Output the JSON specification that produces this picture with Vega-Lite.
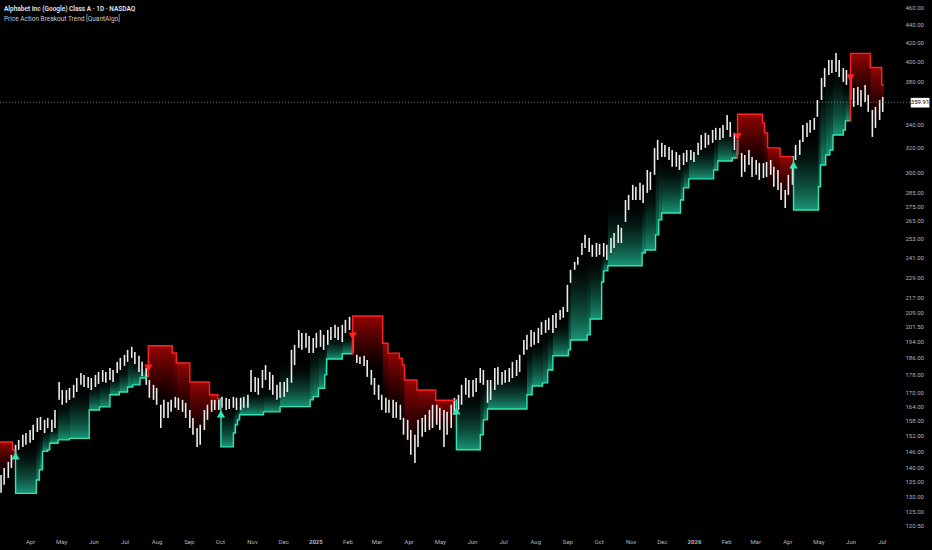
{
  "$schema": "https://vega.github.io/schema/vega-lite/v6.json",
  "width": 890,
  "height": 530,
  "autosize": {"type": "none"},
  "padding": {"left": 0, "top": 0, "right": 42, "bottom": 20},
  "background": "#000000",
  "title": {
    "text": "Alphabet Inc (Google) Class A · 1D · NASDAQ",
    "subtitle": "Price Action Breakout Trend [QuantAlgo]",
    "anchor": "start",
    "frame": "group",
    "offset": -22,
    "dx": 4,
    "fontSize": 6.5,
    "fontWeight": 600,
    "color": "#e0e3eb",
    "subtitleFontSize": 6.5,
    "subtitleColor": "#c5c8d0",
    "subtitlePadding": 3
  },
  "config": {
    "font": "Roboto",
    "view": {"stroke": null},
    "axis": {"grid": false, "ticks": false, "domain": false, "title": null, "labelColor": "#b2b5be", "labelFontSize": 6}
  },
  "resolve": {"axis": {"x": "independent", "y": "independent"}},
  "datasets": {
    "candles": [
      {"d":"2024-03-04","h":137.3,"l":131.1},{"d":"2024-03-07","h":139.8,"l":133.8},
      {"d":"2024-03-11","h":142.0,"l":136.2},{"d":"2024-03-14","h":144.6,"l":139.8},
      {"d":"2024-03-18","h":148.4,"l":143.5},{"d":"2024-03-21","h":150.3,"l":146.5},
      {"d":"2024-03-25","h":152.3,"l":147.6},{"d":"2024-03-28","h":153.0,"l":148.4},
      {"d":"2024-04-01","h":154.2,"l":149.2},{"d":"2024-04-04","h":156.3,"l":150.3},
      {"d":"2024-04-08","h":159.1,"l":153.4},{"d":"2024-04-11","h":159.5,"l":154.2},
      {"d":"2024-04-15","h":158.3,"l":153.0},{"d":"2024-04-18","h":159.1,"l":155.0},
      {"d":"2024-04-22","h":158.3,"l":153.4},{"d":"2024-04-25","h":162.4,"l":155.0},
      {"d":"2024-04-29","h":174.6,"l":166.7},{"d":"2024-05-02","h":171.0,"l":164.6},
      {"d":"2024-05-06","h":171.0,"l":165.4},{"d":"2024-05-09","h":171.9,"l":166.7},
      {"d":"2024-05-13","h":173.3,"l":167.6},{"d":"2024-05-16","h":176.4,"l":170.1},
      {"d":"2024-05-20","h":178.7,"l":173.3},{"d":"2024-05-23","h":177.8,"l":172.3},
      {"d":"2024-05-27","h":176.9,"l":171.9},{"d":"2024-05-30","h":176.4,"l":171.0},
      {"d":"2024-06-03","h":177.8,"l":172.3},{"d":"2024-06-06","h":179.2,"l":173.7},
      {"d":"2024-06-10","h":180.1,"l":174.6},{"d":"2024-06-13","h":179.2,"l":174.2},
      {"d":"2024-06-17","h":181.0,"l":175.5},{"d":"2024-06-20","h":180.1,"l":174.6},
      {"d":"2024-06-24","h":183.9,"l":178.7},{"d":"2024-06-27","h":185.8,"l":180.1},
      {"d":"2024-07-01","h":187.3,"l":182.0},{"d":"2024-07-04","h":189.7,"l":183.9},
      {"d":"2024-07-08","h":191.2,"l":185.8},{"d":"2024-07-11","h":188.7,"l":182.9},
      {"d":"2024-07-15","h":186.8,"l":179.2},{"d":"2024-07-18","h":183.9,"l":177.3},
      {"d":"2024-07-22","h":181.0,"l":173.3},{"d":"2024-07-25","h":175.5,"l":167.6},
      {"d":"2024-07-29","h":173.3,"l":166.7},{"d":"2024-08-01","h":171.9,"l":164.6},
      {"d":"2024-08-05","h":164.6,"l":155.0},{"d":"2024-08-08","h":166.7,"l":159.1},
      {"d":"2024-08-12","h":165.8,"l":159.1},{"d":"2024-08-15","h":166.7,"l":161.6},
      {"d":"2024-08-19","h":168.0,"l":163.3},{"d":"2024-08-22","h":167.6,"l":162.4},
      {"d":"2024-08-26","h":166.7,"l":161.6},{"d":"2024-08-29","h":165.4,"l":159.1},
      {"d":"2024-09-02","h":162.4,"l":155.0},{"d":"2024-09-05","h":159.1,"l":152.3},
      {"d":"2024-09-09","h":155.0,"l":147.6},{"d":"2024-09-12","h":156.3,"l":148.4},
      {"d":"2024-09-16","h":162.4,"l":154.2},{"d":"2024-09-19","h":164.6,"l":158.3},
      {"d":"2024-09-23","h":166.7,"l":161.6},{"d":"2024-09-26","h":166.7,"l":162.4},
      {"d":"2024-09-30","h":166.7,"l":162.4},{"d":"2024-10-03","h":168.0,"l":163.3},
      {"d":"2024-10-07","h":167.6,"l":162.4},{"d":"2024-10-10","h":167.1,"l":162.8},
      {"d":"2024-10-14","h":168.0,"l":163.3},{"d":"2024-10-17","h":167.6,"l":162.4},
      {"d":"2024-10-21","h":167.6,"l":162.4},{"d":"2024-10-24","h":168.0,"l":163.3},
      {"d":"2024-10-28","h":168.9,"l":163.3},{"d":"2024-10-31","h":180.1,"l":170.1},
      {"d":"2024-11-04","h":176.9,"l":170.1},{"d":"2024-11-07","h":176.4,"l":168.9},
      {"d":"2024-11-11","h":180.1,"l":171.9},{"d":"2024-11-14","h":182.4,"l":175.5},
      {"d":"2024-11-18","h":179.2,"l":171.0},{"d":"2024-11-21","h":177.8,"l":168.9},
      {"d":"2024-11-25","h":173.3,"l":166.7},{"d":"2024-11-28","h":174.6,"l":167.6},
      {"d":"2024-12-02","h":174.6,"l":168.0},{"d":"2024-12-05","h":176.4,"l":170.1},
      {"d":"2024-12-09","h":189.7,"l":174.2},{"d":"2024-12-12","h":192.2,"l":182.4},
      {"d":"2024-12-16","h":199.7,"l":190.7},{"d":"2024-12-19","h":198.2,"l":189.7},
      {"d":"2024-12-23","h":198.2,"l":190.7},{"d":"2024-12-26","h":196.6,"l":188.2},
      {"d":"2024-12-30","h":195.6,"l":188.2},{"d":"2025-01-02","h":198.2,"l":190.7},
      {"d":"2025-01-06","h":199.7,"l":191.2},{"d":"2025-01-09","h":197.2,"l":189.7},
      {"d":"2025-01-13","h":199.7,"l":192.2},{"d":"2025-01-16","h":201.3,"l":194.6},
      {"d":"2025-01-20","h":202.4,"l":195.6},{"d":"2025-01-23","h":201.3,"l":194.6},
      {"d":"2025-01-27","h":202.4,"l":193.6},{"d":"2025-01-30","h":205.0,"l":198.2},
      {"d":"2025-02-03","h":206.6,"l":199.7},{"d":"2025-02-06","h":197.2,"l":188.2},
      {"d":"2025-02-10","h":187.3,"l":183.4},{"d":"2025-02-13","h":186.3,"l":182.9},
      {"d":"2025-02-17","h":186.8,"l":182.0},{"d":"2025-02-20","h":184.8,"l":176.9},
      {"d":"2025-02-24","h":180.1,"l":173.3},{"d":"2025-02-27","h":176.4,"l":168.9},
      {"d":"2025-03-03","h":173.3,"l":166.7},{"d":"2025-03-06","h":168.9,"l":162.4},
      {"d":"2025-03-10","h":167.6,"l":161.2},{"d":"2025-03-13","h":166.7,"l":161.2},
      {"d":"2025-03-17","h":166.7,"l":159.1},{"d":"2025-03-20","h":165.8,"l":159.1},
      {"d":"2025-03-24","h":164.6,"l":158.3},{"d":"2025-03-27","h":159.1,"l":152.3},
      {"d":"2025-03-31","h":158.3,"l":150.3},{"d":"2025-04-03","h":154.2,"l":144.6},
      {"d":"2025-04-07","h":152.3,"l":141.6},{"d":"2025-04-10","h":158.3,"l":147.6},
      {"d":"2025-04-14","h":159.1,"l":151.5},{"d":"2025-04-17","h":160.4,"l":153.4},
      {"d":"2025-04-21","h":162.4,"l":154.2},{"d":"2025-04-24","h":164.6,"l":155.0},
      {"d":"2025-04-28","h":164.6,"l":156.3},{"d":"2025-05-01","h":163.3,"l":154.2},
      {"d":"2025-05-05","h":162.4,"l":147.6},{"d":"2025-05-08","h":161.6,"l":152.3},
      {"d":"2025-05-12","h":164.6,"l":155.0},{"d":"2025-05-15","h":167.6,"l":160.4},
      {"d":"2025-05-19","h":168.9,"l":162.4},{"d":"2025-05-22","h":173.3,"l":164.6},
      {"d":"2025-05-26","h":176.4,"l":168.9},{"d":"2025-05-29","h":175.5,"l":167.6},
      {"d":"2025-06-02","h":175.5,"l":168.0},{"d":"2025-06-05","h":176.4,"l":170.1},
      {"d":"2025-06-09","h":181.0,"l":174.2},{"d":"2025-06-12","h":180.1,"l":173.3},
      {"d":"2025-06-16","h":175.5,"l":165.4},{"d":"2025-06-19","h":175.5,"l":166.7},
      {"d":"2025-06-23","h":181.0,"l":171.0},{"d":"2025-06-26","h":181.5,"l":173.3},
      {"d":"2025-06-30","h":179.2,"l":173.3},{"d":"2025-07-03","h":180.1,"l":174.2},
      {"d":"2025-07-07","h":181.0,"l":174.6},{"d":"2025-07-10","h":183.9,"l":176.4},
      {"d":"2025-07-14","h":184.8,"l":177.3},{"d":"2025-07-17","h":187.3,"l":179.2},
      {"d":"2025-07-21","h":194.6,"l":187.3},{"d":"2025-07-24","h":197.2,"l":189.7},
      {"d":"2025-07-28","h":199.7,"l":191.2},{"d":"2025-07-31","h":198.7,"l":192.2},
      {"d":"2025-08-04","h":200.8,"l":193.1},{"d":"2025-08-07","h":203.9,"l":197.2},
      {"d":"2025-08-11","h":205.0,"l":198.2},{"d":"2025-08-14","h":206.1,"l":199.7},
      {"d":"2025-08-18","h":207.6,"l":198.2},{"d":"2025-08-21","h":208.7,"l":200.8},
      {"d":"2025-08-25","h":210.3,"l":205.0},{"d":"2025-08-28","h":212.0,"l":206.1},
      {"d":"2025-09-01","h":224.4,"l":209.2},{"d":"2025-09-04","h":233.3,"l":225.6},
      {"d":"2025-09-08","h":238.2,"l":233.3},{"d":"2025-09-11","h":241.3,"l":236.4},
      {"d":"2025-09-15","h":250.1,"l":242.5},{"d":"2025-09-18","h":255.4,"l":246.9},
      {"d":"2025-09-22","h":253.4,"l":244.4},{"d":"2025-09-25","h":248.9,"l":241.3},
      {"d":"2025-09-29","h":250.1,"l":241.3},{"d":"2025-10-02","h":249.5,"l":242.5},
      {"d":"2025-10-06","h":250.1,"l":241.3},{"d":"2025-10-09","h":248.9,"l":239.4},
      {"d":"2025-10-13","h":253.4,"l":243.7},{"d":"2025-10-16","h":256.7,"l":246.9},
      {"d":"2025-10-20","h":262.1,"l":250.1},{"d":"2025-10-23","h":260.1,"l":250.1},
      {"d":"2025-10-27","h":279.5,"l":264.1},{"d":"2025-10-30","h":283.2,"l":272.4},
      {"d":"2025-11-03","h":290.7,"l":279.5},{"d":"2025-11-06","h":289.2,"l":279.5},
      {"d":"2025-11-10","h":292.2,"l":279.5},{"d":"2025-11-13","h":290.7,"l":277.4},
      {"d":"2025-11-17","h":302.1,"l":284.7},{"d":"2025-11-20","h":300.6,"l":286.9},
      {"d":"2025-11-24","h":319.8,"l":298.3},{"d":"2025-11-27","h":326.5,"l":310.0},
      {"d":"2025-12-01","h":324.0,"l":312.4},{"d":"2025-12-04","h":322.3,"l":312.4},
      {"d":"2025-12-08","h":320.6,"l":310.0},{"d":"2025-12-11","h":318.1,"l":304.5},
      {"d":"2025-12-15","h":316.5,"l":304.5},{"d":"2025-12-18","h":314.0,"l":302.1},
      {"d":"2025-12-22","h":315.7,"l":306.0},{"d":"2025-12-25","h":318.1,"l":308.4},
      {"d":"2025-12-29","h":318.1,"l":310.0},{"d":"2026-01-01","h":316.5,"l":308.4},
      {"d":"2026-01-05","h":324.0,"l":314.0},{"d":"2026-01-08","h":330.7,"l":318.1},
      {"d":"2026-01-12","h":332.5,"l":319.8},{"d":"2026-01-15","h":330.7,"l":322.3},
      {"d":"2026-01-19","h":335.0,"l":324.0},{"d":"2026-01-22","h":336.8,"l":326.5},
      {"d":"2026-01-26","h":336.8,"l":326.5},{"d":"2026-01-29","h":339.4,"l":328.2},
      {"d":"2026-02-02","h":348.3,"l":335.0},{"d":"2026-02-05","h":342.0,"l":329.0},
      {"d":"2026-02-09","h":332.5,"l":318.1},{"d":"2026-02-12","h":326.5,"l":314.0},
      {"d":"2026-02-16","h":315.7,"l":296.7},{"d":"2026-02-19","h":314.0,"l":300.6},
      {"d":"2026-02-23","h":318.1,"l":306.0},{"d":"2026-02-26","h":312.4,"l":296.7},
      {"d":"2026-03-02","h":310.0,"l":298.3},{"d":"2026-03-05","h":307.6,"l":294.4},
      {"d":"2026-03-09","h":307.6,"l":295.9},{"d":"2026-03-12","h":308.4,"l":296.7},
      {"d":"2026-03-16","h":310.0,"l":298.3},{"d":"2026-03-19","h":304.5,"l":289.2},
      {"d":"2026-03-23","h":302.1,"l":286.9},{"d":"2026-03-26","h":292.2,"l":279.5},
      {"d":"2026-03-30","h":286.9,"l":273.8},{"d":"2026-04-02","h":298.3,"l":283.2},
      {"d":"2026-04-06","h":306.0,"l":290.7},{"d":"2026-04-09","h":322.3,"l":310.0},
      {"d":"2026-04-13","h":326.5,"l":314.0},{"d":"2026-04-16","h":339.4,"l":324.8},
      {"d":"2026-04-20","h":341.2,"l":329.0},{"d":"2026-04-23","h":343.8,"l":332.5},
      {"d":"2026-04-27","h":345.6,"l":335.0},{"d":"2026-04-30","h":362.0,"l":346.5},
      {"d":"2026-05-04","h":383.2,"l":362.0},{"d":"2026-05-07","h":393.2,"l":374.4},
      {"d":"2026-05-11","h":401.4,"l":386.2},{"d":"2026-05-14","h":401.4,"l":388.2},
      {"d":"2026-05-18","h":408.8,"l":389.2},{"d":"2026-05-21","h":401.4,"l":384.2},
      {"d":"2026-05-25","h":393.2,"l":379.3},{"d":"2026-05-28","h":391.2,"l":376.4},
      {"d":"2026-06-01","h":384.2,"l":362.0},{"d":"2026-06-04","h":373.4,"l":355.6},
      {"d":"2026-06-08","h":374.4,"l":357.4},{"d":"2026-06-11","h":371.5,"l":355.6},
      {"d":"2026-06-15","h":376.4,"l":360.2},{"d":"2026-06-18","h":366.8,"l":351.0},
      {"d":"2026-06-22","h":352.8,"l":329.0},{"d":"2026-06-25","h":355.6,"l":336.8},
      {"d":"2026-06-29","h":362.0,"l":343.8},{"d":"2026-07-02","h":364.9,"l":351.0}
    ],
    "steps": [
      {"s":"2024-02-26","e":"2024-03-15","v":149.5,"p":136,"t":"down","g":1},
      {"s":"2024-03-15","e":"2024-03-18","v":146.5,"p":138,"t":"down","g":1},
      {"s":"2024-03-17","e":"2024-03-18","v":146.5,"p":146.5,"t":"up","g":2},
      {"s":"2024-03-18","e":"2024-04-07","v":130.9,"p":150,"t":"up","g":2},
      {"s":"2024-04-07","e":"2024-04-10","v":135.5,"p":153,"t":"up","g":2},
      {"s":"2024-04-10","e":"2024-04-13","v":139.1,"p":155,"t":"up","g":2},
      {"s":"2024-04-13","e":"2024-04-18","v":145.9,"p":156,"t":"up","g":2},
      {"s":"2024-04-18","e":"2024-04-20","v":146.5,"p":156,"t":"up","g":2},
      {"s":"2024-04-20","e":"2024-04-28","v":149.0,"p":157,"t":"up","g":2},
      {"s":"2024-04-28","e":"2024-05-09","v":150.3,"p":168,"t":"up","g":2},
      {"s":"2024-05-09","e":"2024-05-28","v":150.9,"p":173,"t":"up","g":2},
      {"s":"2024-05-28","e":"2024-06-07","v":162.4,"p":175,"t":"up","g":2},
      {"s":"2024-06-07","e":"2024-06-17","v":163.7,"p":177,"t":"up","g":2},
      {"s":"2024-06-17","e":"2024-06-26","v":168.9,"p":178,"t":"up","g":2},
      {"s":"2024-06-26","e":"2024-07-04","v":170.1,"p":183,"t":"up","g":2},
      {"s":"2024-07-04","e":"2024-07-09","v":172.3,"p":188,"t":"up","g":2},
      {"s":"2024-07-09","e":"2024-07-16","v":173.3,"p":186,"t":"up","g":2},
      {"s":"2024-07-16","e":"2024-07-22","v":176.4,"p":182,"t":"up","g":2},
      {"s":"2024-07-22","e":"2024-07-24","v":177.0,"p":179,"t":"up","g":2},
      {"s":"2024-07-23","e":"2024-07-24","v":177.0,"p":177.0,"t":"down","g":3},
      {"s":"2024-07-24","e":"2024-08-16","v":191.7,"p":160,"t":"down","g":3},
      {"s":"2024-08-16","e":"2024-08-20","v":188.2,"p":158,"t":"down","g":3},
      {"s":"2024-08-20","e":"2024-09-02","v":183.4,"p":155,"t":"down","g":3},
      {"s":"2024-09-02","e":"2024-09-21","v":174.6,"p":148,"t":"down","g":3},
      {"s":"2024-09-21","e":"2024-09-29","v":168.9,"p":158,"t":"down","g":3},
      {"s":"2024-09-29","e":"2024-10-02","v":167.1,"p":160,"t":"down","g":3},
      {"s":"2024-10-01","e":"2024-10-02","v":167.1,"p":167.1,"t":"up","g":4},
      {"s":"2024-10-02","e":"2024-10-14","v":147.6,"p":165,"t":"up","g":4},
      {"s":"2024-10-14","e":"2024-10-16","v":153.0,"p":165,"t":"up","g":4},
      {"s":"2024-10-16","e":"2024-10-18","v":156.3,"p":165,"t":"up","g":4},
      {"s":"2024-10-18","e":"2024-10-20","v":158.3,"p":165,"t":"up","g":4},
      {"s":"2024-10-20","e":"2024-11-12","v":160.4,"p":172,"t":"up","g":4},
      {"s":"2024-11-12","e":"2024-11-28","v":161.6,"p":172,"t":"up","g":4},
      {"s":"2024-11-28","e":"2024-12-27","v":163.8,"p":185,"t":"up","g":4},
      {"s":"2024-12-27","e":"2024-12-30","v":166.7,"p":193,"t":"up","g":4},
      {"s":"2024-12-30","e":"2025-01-04","v":168.1,"p":193,"t":"up","g":4},
      {"s":"2025-01-04","e":"2025-01-10","v":171.8,"p":195,"t":"up","g":4},
      {"s":"2025-01-10","e":"2025-01-12","v":177.8,"p":196,"t":"up","g":4},
      {"s":"2025-01-12","e":"2025-01-27","v":185.3,"p":198,"t":"up","g":4},
      {"s":"2025-01-27","e":"2025-02-06","v":187.8,"p":198,"t":"up","g":4},
      {"s":"2025-02-05","e":"2025-02-06","v":187.8,"p":187.8,"t":"down","g":5},
      {"s":"2025-02-06","e":"2025-03-07","v":207.1,"p":176,"t":"down","g":5},
      {"s":"2025-03-07","e":"2025-03-12","v":193.0,"p":162,"t":"down","g":5},
      {"s":"2025-03-12","e":"2025-03-23","v":188.1,"p":158,"t":"down","g":5},
      {"s":"2025-03-23","e":"2025-03-26","v":185.6,"p":156,"t":"down","g":5},
      {"s":"2025-03-26","e":"2025-03-28","v":182.4,"p":152,"t":"down","g":5},
      {"s":"2025-03-28","e":"2025-04-09","v":175.5,"p":143,"t":"down","g":5},
      {"s":"2025-04-09","e":"2025-04-27","v":171.0,"p":150,"t":"down","g":5},
      {"s":"2025-04-27","e":"2025-05-17","v":166.5,"p":152,"t":"down","g":5},
      {"s":"2025-05-16","e":"2025-05-17","v":166.5,"p":166.5,"t":"up","g":6},
      {"s":"2025-05-17","e":"2025-06-09","v":146.5,"p":172,"t":"up","g":6},
      {"s":"2025-06-09","e":"2025-06-12","v":152.3,"p":176,"t":"up","g":6},
      {"s":"2025-06-12","e":"2025-06-16","v":158.3,"p":176,"t":"up","g":6},
      {"s":"2025-06-16","e":"2025-07-24","v":162.8,"p":180,"t":"up","g":6},
      {"s":"2025-07-24","e":"2025-07-29","v":168.9,"p":194,"t":"up","g":6},
      {"s":"2025-07-29","e":"2025-08-08","v":172.8,"p":197,"t":"up","g":6},
      {"s":"2025-08-08","e":"2025-08-13","v":174.2,"p":200,"t":"up","g":6},
      {"s":"2025-08-13","e":"2025-08-18","v":180.1,"p":202,"t":"up","g":6},
      {"s":"2025-08-18","e":"2025-09-02","v":186.8,"p":206,"t":"up","g":6},
      {"s":"2025-09-02","e":"2025-09-04","v":189.7,"p":225,"t":"up","g":6},
      {"s":"2025-09-04","e":"2025-09-20","v":194.6,"p":245,"t":"up","g":6},
      {"s":"2025-09-20","e":"2025-09-23","v":197.2,"p":248,"t":"up","g":6},
      {"s":"2025-09-23","e":"2025-10-04","v":205.5,"p":246,"t":"up","g":6},
      {"s":"2025-10-04","e":"2025-10-06","v":226.1,"p":246,"t":"up","g":6},
      {"s":"2025-10-06","e":"2025-10-10","v":232.7,"p":245,"t":"up","g":6},
      {"s":"2025-10-10","e":"2025-11-12","v":235.8,"p":280,"t":"up","g":6},
      {"s":"2025-11-12","e":"2025-11-15","v":243.7,"p":285,"t":"up","g":6},
      {"s":"2025-11-15","e":"2025-11-25","v":245.6,"p":295,"t":"up","g":6},
      {"s":"2025-11-25","e":"2025-11-28","v":255.4,"p":316,"t":"up","g":6},
      {"s":"2025-11-28","e":"2025-12-01","v":265.5,"p":318,"t":"up","g":6},
      {"s":"2025-12-01","e":"2025-12-19","v":270.3,"p":312,"t":"up","g":6},
      {"s":"2025-12-19","e":"2025-12-22","v":279.5,"p":312,"t":"up","g":6},
      {"s":"2025-12-22","e":"2025-12-27","v":288.4,"p":312,"t":"up","g":6},
      {"s":"2025-12-27","e":"2026-01-20","v":295.2,"p":325,"t":"up","g":6},
      {"s":"2026-01-20","e":"2026-01-24","v":302.1,"p":331,"t":"up","g":6},
      {"s":"2026-01-24","e":"2026-02-07","v":309.2,"p":338,"t":"up","g":6},
      {"s":"2026-02-07","e":"2026-02-12","v":311.6,"p":324,"t":"up","g":6},
      {"s":"2026-02-11","e":"2026-02-12","v":311.6,"p":311.6,"t":"down","g":7},
      {"s":"2026-02-12","e":"2026-03-08","v":348.9,"p":296,"t":"down","g":7},
      {"s":"2026-03-08","e":"2026-03-10","v":341.2,"p":294,"t":"down","g":7},
      {"s":"2026-03-10","e":"2026-03-13","v":332.5,"p":292,"t":"down","g":7},
      {"s":"2026-03-13","e":"2026-03-25","v":319.8,"p":282,"t":"down","g":7},
      {"s":"2026-03-25","e":"2026-04-07","v":312.7,"p":272,"t":"down","g":7},
      {"s":"2026-04-06","e":"2026-04-07","v":312.7,"p":312.7,"t":"up","g":8},
      {"s":"2026-04-07","e":"2026-05-01","v":272.4,"p":335,"t":"up","g":8},
      {"s":"2026-05-01","e":"2026-05-03","v":289.2,"p":365,"t":"up","g":8},
      {"s":"2026-05-03","e":"2026-05-08","v":306.0,"p":388,"t":"up","g":8},
      {"s":"2026-05-08","e":"2026-05-12","v":314.0,"p":395,"t":"up","g":8},
      {"s":"2026-05-12","e":"2026-05-15","v":318.1,"p":396,"t":"up","g":8},
      {"s":"2026-05-15","e":"2026-05-25","v":330.7,"p":398,"t":"up","g":8},
      {"s":"2026-05-25","e":"2026-05-27","v":335.0,"p":385,"t":"up","g":8},
      {"s":"2026-05-27","e":"2026-06-01","v":343.0,"p":380,"t":"up","g":8},
      {"s":"2026-05-31","e":"2026-06-01","v":343.0,"p":343.0,"t":"down","g":9},
      {"s":"2026-06-01","e":"2026-06-20","v":408.4,"p":350,"t":"down","g":9},
      {"s":"2026-06-20","e":"2026-07-01","v":393.7,"p":335,"t":"down","g":9},
      {"s":"2026-07-01","e":"2026-07-03","v":376.4,"p":350,"t":"down","g":9}
    ],
    "signals": [
      {"d":"2024-03-18","v":144.2,"t":"up"},
      {"d":"2024-07-24","v":181.0,"t":"down"},
      {"d":"2024-10-02","v":160.8,"t":"up"},
      {"d":"2025-02-06","v":196.6,"t":"down"},
      {"d":"2025-05-17","v":162.0,"t":"up"},
      {"d":"2026-02-12","v":329.0,"t":"down"},
      {"d":"2026-04-07","v":306.0,"t":"up"},
      {"d":"2026-06-01","v":383.2,"t":"down"}
    ]
  },
  "layer": [
    {
      "data": {"name": "steps", "format": {"parse": {"s": "date", "e": "date"}}},
      "transform": [{"filter": "datum.t == 'up'"}],
      "mark": {
        "type": "rect",
        "clip": true,
        "fill": {
          "gradient": "linear", "x1": 0, "y1": 1, "x2": 0, "y2": 0,
          "stops": [
            {"offset": 0, "color": "rgba(30,175,138,0.85)"},
            {"offset": 0.5, "color": "rgba(16,95,75,0.45)"},
            {"offset": 1, "color": "rgba(0,0,0,0)"}
          ]
        }
      },
      "encoding": {
        "x": {
          "field": "s", "type": "temporal",
          "scale": {"domain": [{"year": 2024, "month": 3, "date": 3}, {"year": 2026, "month": 7, "date": 9}]},
          "axis": {
            "tickCount": {"interval": "month", "step": 1},
            "labelExpr": "month(datum.value) == 0 ? timeFormat(datum.value, '%Y') : timeFormat(datum.value, '%b')",
            "labelFontWeight": {"condition": {"test": "month(datum.value) == 0", "value": "bold"}, "value": "normal"},
            "labelFlush": false,
            "labelOverlap": false,
            "labelPadding": 8
          }
        },
        "x2": {"field": "e"},
        "y": {
          "field": "v", "type": "quantitative",
          "scale": {"type": "log", "domain": [119.06, 468.8], "nice": false},
          "axis": {
            "orient": "right",
            "values": [120.5, 125, 130, 135, 140, 146, 152, 158, 164, 170, 178, 186, 194, 201.5, 209, 217, 229, 241, 253, 265, 275, 285, 300, 320, 340, 380, 400, 420, 440, 460],
            "format": ".2f",
            "labelAlign": "left",
            "labelPadding": 15
          }
        },
        "y2": {"field": "p"}
      }
    },
    {
      "data": {"name": "steps", "format": {"parse": {"s": "date", "e": "date"}}},
      "transform": [{"filter": "datum.t == 'down'"}],
      "mark": {
        "type": "rect",
        "clip": true,
        "fill": {
          "gradient": "linear", "x1": 0, "y1": 0, "x2": 0, "y2": 1,
          "stops": [
            {"offset": 0, "color": "rgba(165,6,6,0.92)"},
            {"offset": 0.5, "color": "rgba(95,0,0,0.55)"},
            {"offset": 1, "color": "rgba(0,0,0,0)"}
          ]
        }
      },
      "encoding": {
        "x": {"field": "s", "type": "temporal", "scale": {"domain": [{"year": 2024, "month": 3, "date": 3}, {"year": 2026, "month": 7, "date": 9}]}, "axis": null},
        "x2": {"field": "e"},
        "y": {"field": "v", "type": "quantitative", "scale": {"type": "log", "domain": [119.06, 468.8], "nice": false}, "axis": null},
        "y2": {"field": "p"}
      }
    },
    {
      "data": {"name": "candles"},
      "mark": {"type": "rule", "color": "#ececec", "strokeWidth": 1.6, "clip": true},
      "encoding": {
        "x": {"field": "d", "type": "temporal", "scale": {"domain": [{"year": 2024, "month": 3, "date": 3}, {"year": 2026, "month": 7, "date": 9}]}, "axis": null},
        "y": {"field": "l", "type": "quantitative", "scale": {"type": "log", "domain": [119.06, 468.8], "nice": false}, "axis": null},
        "y2": {"field": "h"}
      }
    },
    {
      "data": {"name": "steps", "format": {"parse": {"s": "date", "e": "date"}}},
      "transform": [{"fold": ["s", "e"], "as": ["k", "d"]}],
      "mark": {"type": "line", "strokeWidth": 1.4, "clip": true},
      "encoding": {
        "x": {"field": "d", "type": "temporal", "scale": {"domain": [{"year": 2024, "month": 3, "date": 3}, {"year": 2026, "month": 7, "date": 9}]}, "axis": null},
        "y": {"field": "v", "type": "quantitative", "scale": {"type": "log", "domain": [119.06, 468.8], "nice": false}, "axis": null},
        "color": {"field": "t", "type": "nominal", "scale": {"domain": ["up", "down"], "range": ["#2fe6b7", "#ff2222"]}, "legend": null},
        "detail": {"field": "g"},
        "order": [{"field": "d", "type": "temporal"}, {"field": "k", "type": "nominal"}]
      }
    },
    {
      "data": {"name": "signals"},
      "mark": {"type": "point", "filled": true, "size": 70, "opacity": 1},
      "encoding": {
        "x": {"field": "d", "type": "temporal", "scale": {"domain": [{"year": 2024, "month": 3, "date": 3}, {"year": 2026, "month": 7, "date": 9}]}, "axis": null},
        "y": {"field": "v", "type": "quantitative", "scale": {"type": "log", "domain": [119.06, 468.8], "nice": false}, "axis": null},
        "color": {"field": "t", "type": "nominal", "scale": {"domain": ["up", "down"], "range": ["#2fe6b7", "#ff2222"]}, "legend": null},
        "shape": {"field": "t", "type": "nominal", "scale": {"domain": ["up", "down"], "range": ["triangle-up", "triangle-down"]}, "legend": null}
      }
    },
    {
      "data": {"values": [{}]},
      "mark": {"type": "rule", "color": "#9598a1", "strokeDash": [1, 2], "strokeWidth": 0.8, "clip": false},
      "encoding": {
        "x": {"datum": {"year": 2024, "month": 3, "date": 3}, "type": "temporal", "scale": {"domain": [{"year": 2024, "month": 3, "date": 3}, {"year": 2026, "month": 7, "date": 9}]}, "axis": null},
        "x2": {"datum": {"year": 2026, "month": 7, "date": 29}},
        "y": {"datum": 359.91, "type": "quantitative", "scale": {"type": "log", "domain": [119.06, 468.8], "nice": false}, "axis": null}
      }
    },
    {
      "data": {"values": [{}]},
      "mark": {"type": "rect", "fill": "#ffffff", "clip": false},
      "encoding": {
        "x": {"datum": {"year": 2026, "month": 7, "date": 29}, "type": "temporal", "scale": {"domain": [{"year": 2024, "month": 3, "date": 3}, {"year": 2026, "month": 7, "date": 9}]}, "axis": null},
        "x2": {"datum": {"year": 2026, "month": 8, "date": 16}},
        "y": {"datum": 364, "type": "quantitative", "scale": {"type": "log", "domain": [119.06, 468.8], "nice": false}, "axis": null},
        "y2": {"datum": 355}
      }
    },
    {
      "data": {"values": [{}]},
      "mark": {"type": "text", "text": "359.91", "color": "#000000", "fontSize": 6, "align": "center", "baseline": "middle", "clip": false},
      "encoding": {
        "x": {"datum": {"year": 2026, "month": 8, "date": 7}, "type": "temporal", "scale": {"domain": [{"year": 2024, "month": 3, "date": 3}, {"year": 2026, "month": 7, "date": 9}]}, "axis": null},
        "y": {"datum": 359.91, "type": "quantitative", "scale": {"type": "log", "domain": [119.06, 468.8], "nice": false}, "axis": null}
      }
    }
  ]
}
